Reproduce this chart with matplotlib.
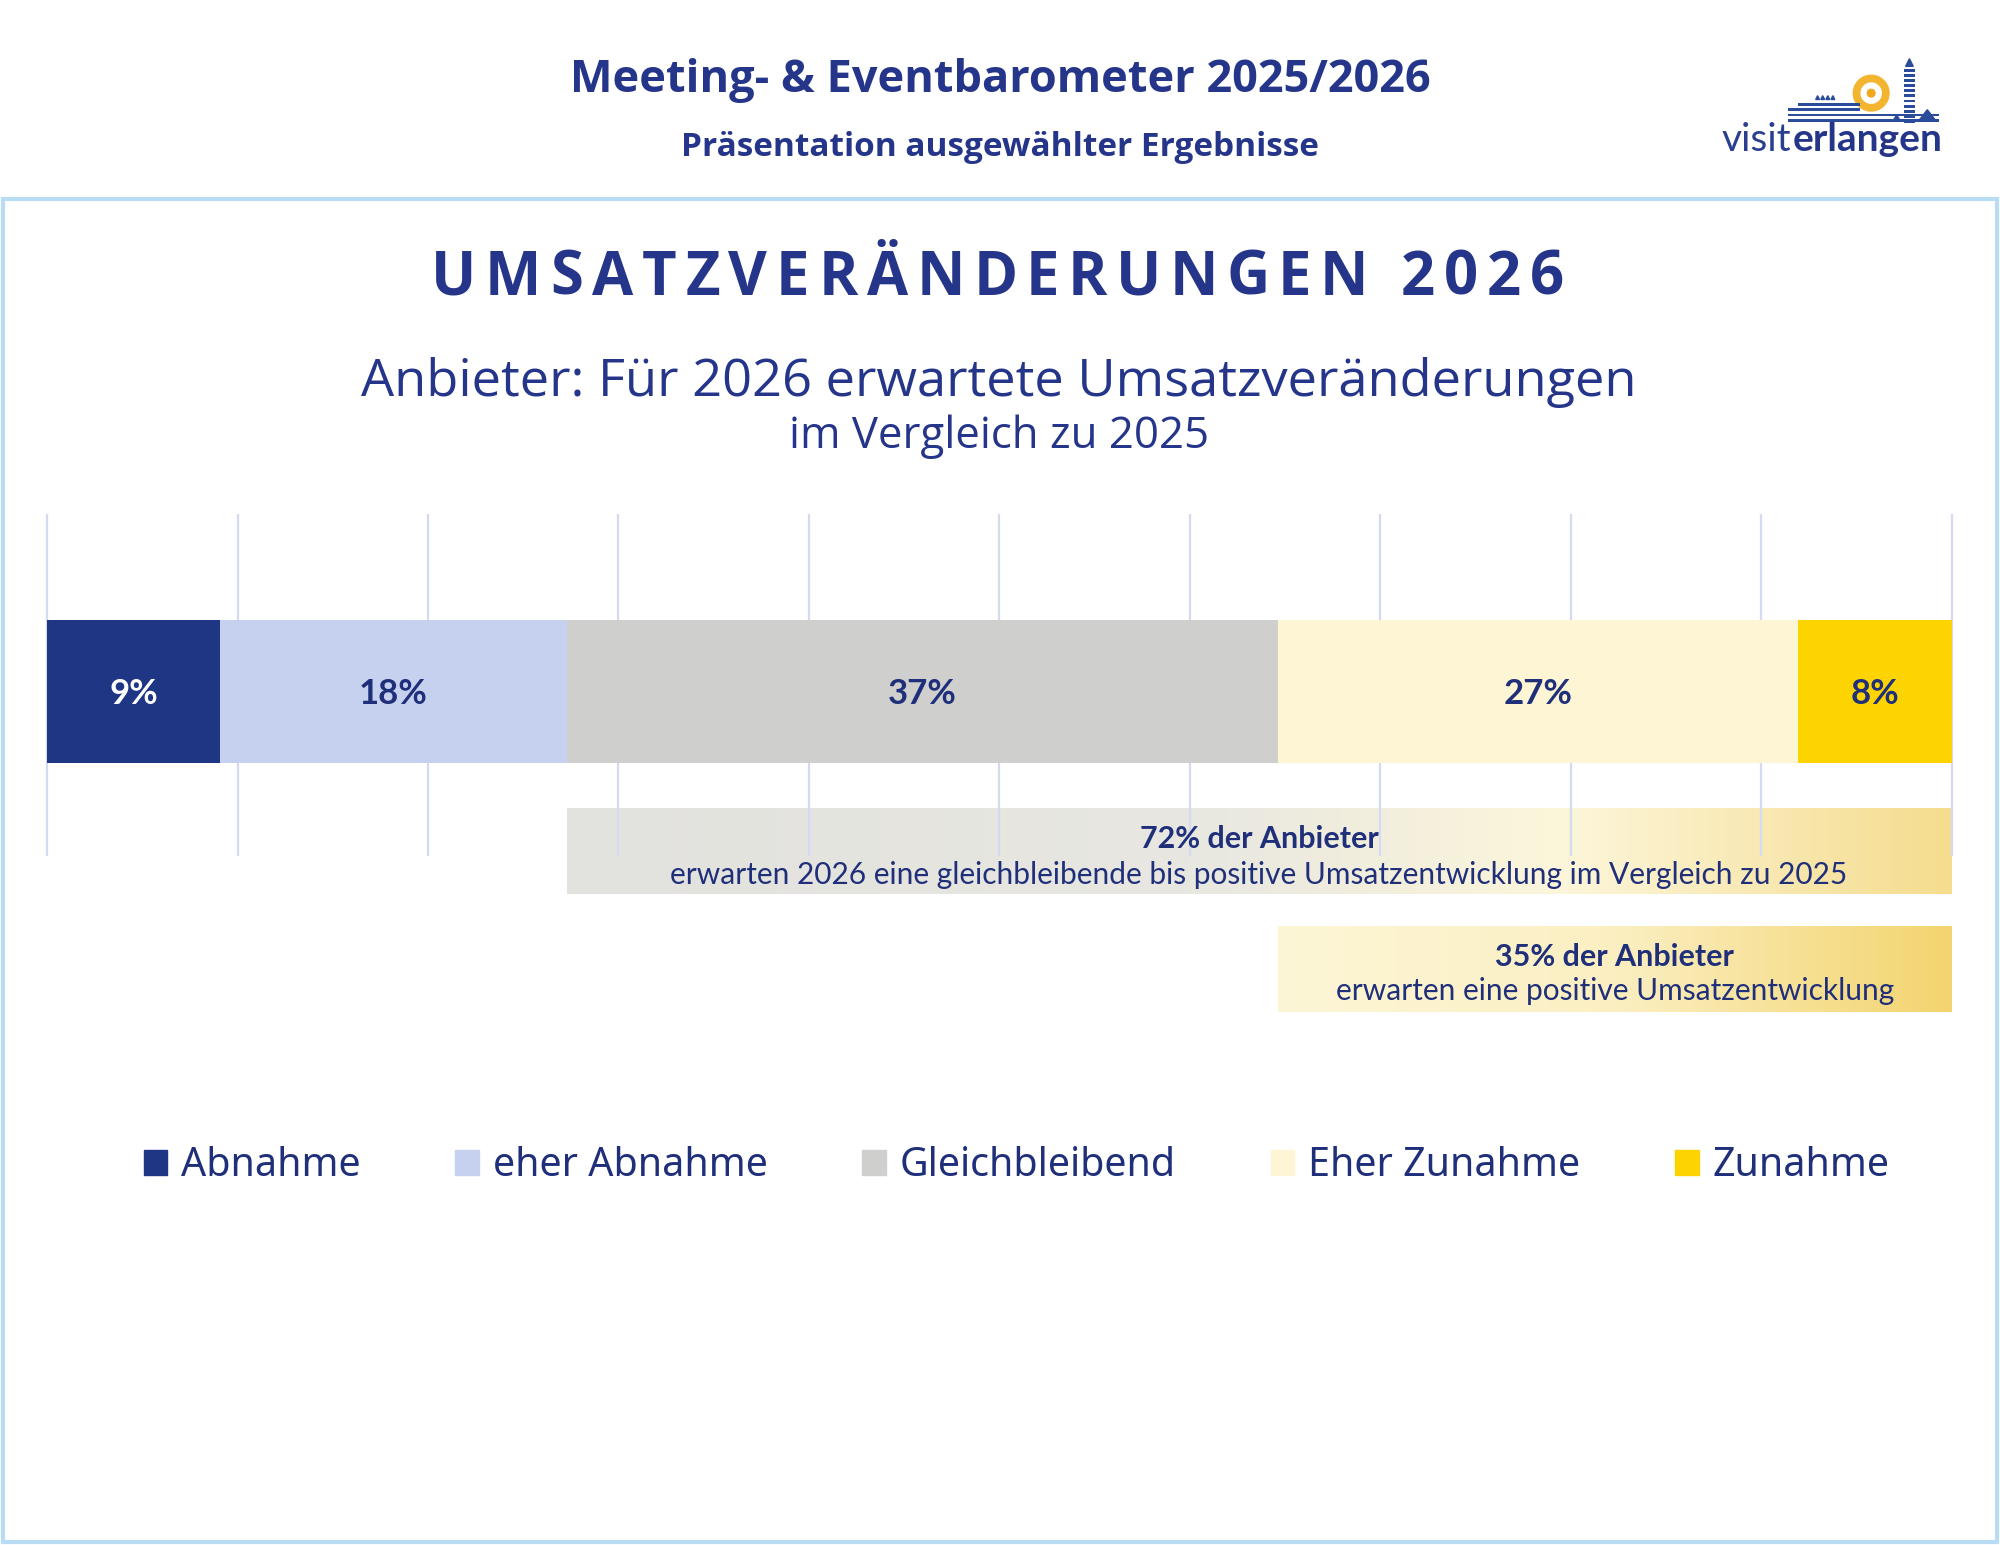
import numpy as np
import matplotlib.pyplot as plt
from matplotlib.colors import LinearSegmentedColormap
from matplotlib.patches import Rectangle, Patch, Wedge, Circle, Polygon

# data
categories = ["Abnahme", "eher Abnahme", "Gleichbleibend", "Eher Zunahme", "Zunahme"]
values = [9, 18, 37, 27, 8]
bar_colors = ["#1f3685", "#c6d1f0", "#cfcfcd", "#fdf5d3", "#fdd400"]
label_colors = ["white", "#1f2f7a", "#1f2f7a", "#1f2f7a", "#1f2f7a"]

header_title = "Meeting- & Eventbarometer 2025/2026"
header_sub = "Präsentation ausgewählter Ergebnisse"
slide_title = "UMSATZVERÄNDERUNGEN 2026"
chart_title = "Anbieter: Für 2026 erwartete Umsatzveränderungen"
chart_sub = "im Vergleich zu 2025"
note_stable = "erwarten 2026 eine gleichbleibende bis positive Umsatzentwicklung im Vergleich zu 2025"
note_positive = "erwarten eine positive Umsatzentwicklung"

NAVY = "#1f2f7a"
TITLE_BLUE = "#25358a"
FRAME = "#b7dcf4"
HEAD_FONT = "Open Sans"
W, H = 1568, 1211  # layout grid of the reference


def fx(x):
    return x / W


def fy(y):
    return 1 - y / H


def spaced_text(fig, s, cx, y, target_w, **kw):
    r = fig.canvas.get_renderer()

    def width(txt):
        t = fig.text(0, 0, txt, **kw)
        w = t.get_window_extent(renderer=r).width
        t.remove()
        return w

    base = width("XX")
    widths = [width("X" + ch + "X") - base for ch in s]
    fw = fig.get_size_inches()[0] * fig.dpi
    track = (target_w - sum(widths)) / (len(s) - 1)
    x = cx * fw - target_w / 2
    for ch, w in zip(s, widths):
        fig.text(x / fw, y, ch, ha="left", va="baseline", **kw)
        x += w + track


def draw_logo(fig):
    lg = fig.add_axes([fx(1345), fy(125), fx(1525) - fx(1345), fy(45) - fy(125)])
    lg.set_xlim(1345, 1525)
    lg.set_ylim(125, 45)
    lg.axis("off")
    blue = "#2a4c9a"
    # sun ring
    lg.add_patch(Wedge((1467, 73), 14, 0, 360, width=5, color="#f3b530"))
    lg.add_patch(Circle((1467, 73), 3, color="#f0a81c"))
    # hill stripes
    for i, y in enumerate([81, 85, 89, 93]):
        x0 = 1402 if i > 0 else 1410
        x1 = 1458 if i < 2 else 1520
        lg.add_patch(Rectangle((x0, y), x1 - x0, 2.3, color=blue, lw=0))
    for xt in [1425, 1429, 1433, 1437]:
        lg.add_patch(Polygon([[xt - 1.5, 78], [xt + 1.5, 78], [xt, 75]], color=blue))
    # tower
    lg.add_patch(Polygon([[1494, 52], [1500, 52], [1497, 46]], color=blue))
    for y in np.arange(54, 95, 4):
        lg.add_patch(Rectangle((1493, y), 8, 2.3, color=blue, lw=0))
    lg.add_patch(Polygon([[1504, 95], [1518, 95], [1511, 86]], color=blue))
    lg.add_patch(Polygon([[1484, 95], [1490, 95], [1487, 90]], color=blue))

    r = fig.canvas.get_renderer()
    t1 = fig.text(fx(1350), fy(118), "visit", fontsize=28, family="Lato",
                  fontweight="normal", color="#2a3f8f", va="baseline")
    bb = t1.get_window_extent(renderer=r)
    fw = fig.get_size_inches()[0] * fig.dpi
    fig.text((bb.x1 + 1) / fw, fy(118), "erlangen", fontsize=28, family="Lato",
             fontweight="bold", color="#253689", va="baseline")


def main():
    fig = plt.figure(figsize=(20, 15.45), dpi=100)
    fig.patch.set_facecolor("white")

    # header
    fig.text(fx(784), fy(63), header_title, ha="center", va="center",
             fontsize=32.5, fontweight="bold", family=HEAD_FONT, color=TITLE_BLUE)
    fig.text(fx(784), fy(116), header_sub, ha="center", va="center",
             fontsize=24, fontweight="bold", family=HEAD_FONT, color=TITLE_BLUE)
    draw_logo(fig)

    # frame
    fig.add_artist(Rectangle((fx(2), fy(1209)), fx(1566) - fx(2), fy(156) - fy(1209),
                             transform=fig.transFigure, fill=False, ec=FRAME, lw=3))

    spaced_text(fig, slide_title, fx(782), fy(231), 888 * 2000 / W,
                fontsize=43, fontweight="bold", family=HEAD_FONT, color=TITLE_BLUE)
    fig.text(fx(783), fy(300), chart_title, ha="center", va="center",
             fontsize=37.7, family=HEAD_FONT, color=TITLE_BLUE)
    fig.text(fx(783), fy(342), chart_sub, ha="center", va="center",
             fontsize=31.5, family=HEAD_FONT, color=TITLE_BLUE)

    # chart area
    ax = fig.add_axes([fx(37), fy(793), fx(1530) - fx(37), fy(403) - fy(793)])
    shares = np.array(values) / sum(values) * 100
    lefts = np.concatenate([[0], np.cumsum(shares)[:-1]])

    ax.vlines(np.arange(0, 101, 10), 403, 671, color="#d3daf1", lw=1.6,
              zorder=2, clip_on=False)
    ax.barh(542, shares, left=lefts, height=112, color=bar_colors, zorder=3)
    for l, s, v, c in zip(lefts, shares, values, label_colors):
        ax.text(l + s / 2, 544, f"{v}%", ha="center", va="center", fontsize=25,
                fontweight="bold", family="Lato", color=c, zorder=4)

    # summary boxes
    stable_pct = sum(values[2:])
    positive_pct = sum(values[3:])
    grad = np.linspace(0, 1, 256).reshape(1, -1)
    cmap1 = LinearSegmentedColormap.from_list(
        "g1", [(0, "#e2e2de"), (0.45, "#e8e7e1"), (0.72, "#fcf6da"), (1, "#f5dc8e")])
    cmap2 = LinearSegmentedColormap.from_list(
        "g2", [(0, "#fdf6d6"), (0.5, "#fbefc2"), (1, "#f3d46f")])
    ax.imshow(grad, cmap=cmap1, extent=[lefts[2], 100, 701, 634], aspect="auto", zorder=1)
    ax.imshow(grad, cmap=cmap2, extent=[lefts[3], 100, 793, 726], aspect="auto", zorder=1)
    ax.set_xlim(0, 100)
    ax.set_ylim(793, 403)
    ax.axis("off")

    c1 = (lefts[2] + 100) / 2
    ax.text(c1, 658, f"{stable_pct}% der Anbieter", ha="center", va="center",
            fontsize=22, fontweight="bold", family="Lato", color=NAVY, zorder=4)
    ax.text(c1, 686, note_stable, ha="center", va="center",
            fontsize=21.5, family="Lato", color=NAVY, zorder=4)
    c2 = (lefts[3] + 100) / 2
    ax.text(c2, 750, f"{positive_pct}% der Anbieter", ha="center", va="center",
            fontsize=22, fontweight="bold", family="Lato", color=NAVY, zorder=4)
    ax.text(c2, 777, note_positive, ha="center", va="center",
            fontsize=21.5, family="Lato", color=NAVY, zorder=4)

    # legend
    handles = [Patch(color=c) for c in bar_colors]
    fig.legend(handles, categories, loc="center", bbox_to_anchor=(fx(797), fy(914)),
               ncol=5, frameon=False, handlelength=0.6, handleheight=0.6,
               handletextpad=0.35, columnspacing=2.4, labelcolor=NAVY,
               prop={"family": "Noto Sans", "size": 28.4})

    fig.savefig("out.png", dpi=100, facecolor="white")


if __name__ == "__main__":
    main()
